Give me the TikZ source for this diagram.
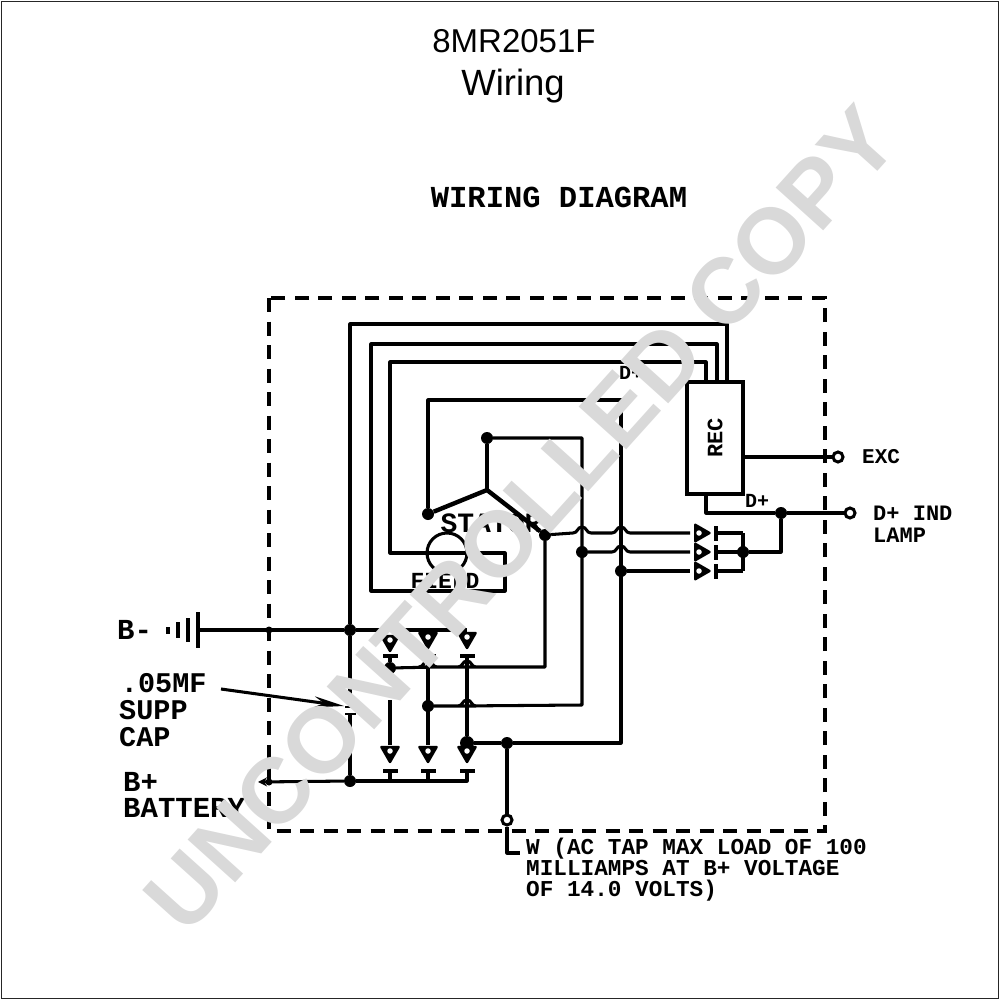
\documentclass[tikz,border=0pt]{standalone}
\usepackage{fontspec}
\usepackage{tikz}
\usetikzlibrary{arrows.meta, shapes.geometric}
\setmainfont{Liberation Sans}
\newfontfamily\scanfont{Liberation Mono}
\newcommand{\scansize}[1]{\fontsize{#1}{#1}\selectfont\scanfont\bfseries}
% bump of a wire that crosses another one
\newcommand{\wirehop}[2]{-- (#1-9,#2) .. controls (#1-4,#2) and (#1-5,#2-6) .. (#1,#2-6) .. controls (#1+5,#2-6) and (#1+4,#2) .. (#1+9,#2)}

\begin{document}
\begin{tikzpicture}[x=1pt, y=-1pt,
	wire/.style={line width=3.05pt, line join=round},
	heavy/.style={line width=4.4pt, line join=round},
	dot/.style={circle, fill=black, inner sep=0pt, minimum size=12pt},
	terminal/.style={circle, draw, fill=white, line width=3pt, inner sep=0pt, minimum size=10pt},
	diode/.style={regular polygon, regular polygon sides=3, draw, fill=black, line width=2.4pt, line join=round, inner sep=0pt, minimum size=20pt},
	hole/.style={circle, fill=white, inner sep=0pt, minimum size=5.5pt},
	barh/.style={fill=black, inner sep=0pt, minimum width=15pt, minimum height=4pt},
	barv/.style={fill=black, inner sep=0pt, minimum width=4pt, minimum height=15pt},
	plate/.style={fill=black, inner sep=0pt, minimum width=3.6pt},
	label/.style={anchor=west, inner sep=0pt, align=left},
	]
\useasboundingbox (0,0) rectangle (1000,1000);
\node[draw=black!85, line width=1.5pt, inner sep=0pt, minimum width=997pt, minimum height=997pt] (frame) at (500,500) {};

\node[inner sep=0pt, font=\fontsize{33}{33}\selectfont] (title) at (514,41) {8MR2051F};
\node[inner sep=0pt, font=\fontsize{36.5}{36.5}\selectfont] (subtitle) at (513,86) {Wiring};
\node[inner sep=0pt, font=\scansize{30.5}] (heading) at (559,197) {WIRING DIAGRAM};

% outline of the unit
\draw[line width=3.05pt, dash pattern=on 14pt off 9.5pt] (269,298) rectangle (825,831);

% regulator
\node[draw, line width=3.05pt, minimum width=56pt, minimum height=112pt, inner sep=0pt] (reg) at (715,438) {};
\node[rotate=90, inner sep=0pt, font=\scansize{22}] (regtext) at (715,438) {REC};

% stator and field
\node[dot] (st1) at (428,514) {};
\node[dot] (st2) at (487,438) {};
\coordinate (st3) at (487,490);
\node[dot] (st4) at (545,535) {};
\node[circle, draw, wire, minimum size=40pt, inner sep=0pt] (field) at (447,553) {};
\node[inner sep=0pt, font=\scansize{28}] (statortext) at (491,523) {STATOR};
\node[inner sep=0pt, font=\scansize{23}] (fieldtext) at (445,581) {FIELD};
\draw[heavy] (field.west) -- (field.east);
\draw[heavy] (st1) -- (st3) -- (st4);
\draw[heavy] (st2) -- (st3);

% junctions
\node[dot] (neg) at (350,630) {};
\node[dot] (pos) at (350,781) {};
\node[dot] (j1) at (582,552) {};
\node[dot] (j2) at (621,571) {};
\node[dot] (j3) at (390,668) {};
\node[dot] (j4) at (428,706) {};
\node[dot, minimum size=14pt] (j5) at (467,743) {};
\node[dot] (j6) at (507,743) {};
\node[dot] (j7) at (743,552) {};
\node[dot] (j8) at (781,513) {};
\node[dot, minimum size=7pt] (cross1) at (269,630) {};
\node[dot, minimum size=7pt] (cross2) at (269,782) {};

% wires
\coordinate (cap1) at (350,707);
\coordinate (cap2) at (350,714);
\draw[wire] (neg) -- (350,324) -- (727,324) -- (727,382);
\draw[wire] (neg) -- (cap1);
\draw[wire] (cap2) -- (pos);
\node[barh, minimum width=11pt, minimum height=2.6pt] (capa) at (cap1) {};
\node[barh, minimum width=11pt, minimum height=2.6pt] (capb) at (cap2) {};
\draw[wire] (field.east) -- (505,553) -- (505,591) -- (371,591) -- (371,344) -- (717,344) -- (717,382);
\draw[wire] (field.west) -- (390,553) -- (390,362) -- (706,362) -- (706,382);
\draw[wire] (st1) -- (428,400) -- (621,400) -- (621,743) -- (j6);
\draw[wire] (st2) -- (582,438) -- (582,705) \wirehop{467}{706} -- (j4);
\draw[wire] (st4) -- (545,667) \wirehop{467}{667} \wirehop{428}{667} -- (j3);
\draw[wire] (st4) \wirehop{582}{533} \wirehop{621}{533} -- (690,533);
\draw[wire] (j1) \wirehop{621}{552} -- (690,552);
\draw[wire] (j2) -- (690,571);
\draw[wire] (j5) -- (j6);
\draw[heavy] (j5) -- (467,695);

% rectifier, right side
\foreach \n/\y in {a/533, b/552, c/571} {
	\node[diode, shape border rotate=-90, minimum size=19pt] (d\n) at (700,\y) {};
	\node[hole] (h\n) at (699,\y) {};
	\node[barv] (e\n) at (716,\y) {};
	\draw[wire] (e\n) -- (743,\y);
}
\draw[wire] (743,533) -- (743,571);
\draw[wire] (j7) -- (781,552) -- (j8);

% rectifier, lower side
\draw[wire] (390,656) -- (j3);
\draw[wire] (390,745) -- (390,700);
\draw[wire] (428,656) -- (428,745);
\draw[wire] (467,656) -- (j5);
\foreach \n/\x/\t in {a/390/641, b/428/638, c/467/638} {
	\node[diode, shape border rotate=180] (u\n) at (\x,\t) {};
	\node[hole] (p\n) at (\x,\t-1) {};
	\node[barh] (v\n) at (\x,656) {};
	\node[diode, shape border rotate=180] (w\n) at (\x,752) {};
	\node[hole] (q\n) at (\x,751) {};
	\node[barh] (x\n) at (\x,771) {};
	\draw[wire] (x\n) -- (\x,781);
}

% outside connections
\node[terminal] (exc) at (838,457) {};
\node[terminal] (lamp) at (850,513) {};
\node[terminal] (tap) at (507,820) {};
\coordinate (tapend) at (520,853);
\coordinate (batend) at (258,782);
\draw[wire] (reg.east |- exc) -- (exc);
\draw[wire] (706,494) -- (706,513) -- (j8) -- (lamp);
\draw[wire] (j6) -- (tap);
\draw[wire] (tap) -- (507,853) -- (tapend);
\draw[wire, -{Stealth[length=9pt, width=9pt]}] (pos) -- (batend);
\draw[wire] (pos) -- (467,781) -- (467,771);

% battery
\node[plate, minimum height=36pt] (bat1) at (198,630) {};
\node[plate, minimum height=24pt] (bat2) at (188,630) {};
\node[plate, minimum height=16pt] (bat3) at (178,630) {};
\node[plate, minimum height=7pt] (bat4) at (168,630) {};
\draw[wire] (bat1) -- (neg) -- (467,630);

% supp cap pointer
\coordinate (capstart) at (221,689);
\coordinate (captip) at (344,706);
\draw[wire, -{Stealth[length=30pt, width=11pt]}] (capstart) -- (captip);

% labels
\node[label, font=\scansize{29}] (bminus) at (117,630) {B-};
\node[label, font=\scansize{28.5}] (suppcap) at (119,710) {\hspace*{-3pt}\,.05MF\\[-1.5pt]SUPP\\[-1.5pt]CAP};
\node[label, font=\scansize{29}] (bplus) at (123,795) {B+\\[-3pt]BATTERY};
\node[label, font=\scansize{21}] (exctext) at (862,457) {EXC};
\node[label, font=\scansize{22}] (lamptext) at (873,524) {D+ IND\\LAMP};
\node[inner sep=0pt, font=\scansize{20}] (dplus) at (757,501) {D+};
\node[inner sep=0pt, font=\scansize{20}] (dplustop) at (631,373) {D+};
\node[label, font=\scansize{22.7}] (taptext) at (526,870) {W (AC TAP MAX LOAD OF 100\\[-1.7pt]MILLIAMPS AT B+ VOLTAGE\\[-1.7pt]OF 14.0 VOLTS)};

% stamp over the whole sheet
\node[rotate=48, inner sep=0pt, text=black!15, font=\fontsize{93}{93}\selectfont\bfseries] (stamp) at (521,519) {UNCONTROLLED COPY};
\end{tikzpicture}
\end{document}
